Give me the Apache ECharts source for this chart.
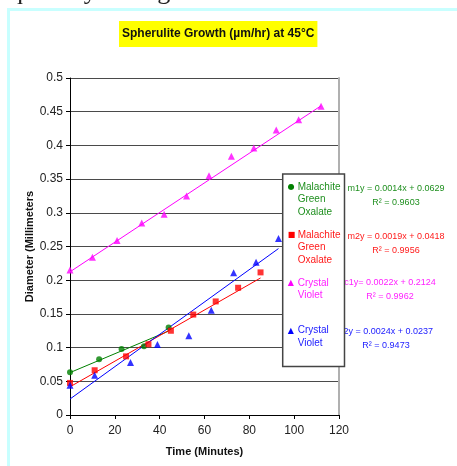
<!DOCTYPE html>
<html>
<head>
<meta charset="utf-8">
<script src="https://cdn.jsdelivr.net/npm/echarts@6/dist/echarts.min.js"></script>
<style>
  html, body { margin: 0; padding: 0; background: #ffffff; }
  #chart { width: 457px; height: 466px; }
</style>
</head>
<body>
<div id="chart"></div>
<script>
// Spherulite diameter over time, 45°C, four samples
const seriesNames = ['Malachite Green Oxalate 1', 'Malachite Green Oxalate 2', 'Crystal Violet 1', 'Crystal Violet 2'];
const legendLines = [
  ['Malachite', 'Green', 'Oxalate'],
  ['Malachite', 'Green', 'Oxalate'],
  ['Crystal', 'Violet', ' '],
  ['Crystal', 'Violet', ' ']
];

const mgo1Time = [0, 13, 23, 33, 44];
const mgo1Diam = [0.0635, 0.0828, 0.098, 0.102, 0.130];

const mgo2Time = [0, 11, 25, 35, 45, 55, 65, 75, 85];
const mgo2Diam = [0.0476, 0.0664, 0.087, 0.105, 0.125, 0.149, 0.1685, 0.1888, 0.2116];

const cv1Time = [0, 10, 21, 32, 42, 52, 62, 72, 82, 92, 102, 112];
const cv1Diam = [0.215, 0.234, 0.259, 0.285, 0.298, 0.325, 0.355, 0.384, 0.396, 0.423, 0.438, 0.458];

const cv2Time = [0, 11, 27, 39, 53, 63, 73, 83, 93];
const cv2Diam = [0.044, 0.059, 0.078, 0.1046, 0.1175, 0.1556, 0.211, 0.2265, 0.262];

// Linear trendlines (y = slope * x + intercept) and their fit quality
const trendSlope = [0.0014, 0.0019, 0.0022, 0.0024];
const trendIntercept = [0.0629, 0.0418, 0.2124, 0.0237];
const trendLabel = [
  'm1y = 0.0014x + 0.0629', 'm2y = 0.0019x + 0.0418',
  'c1y= 0.0022x + 0.2124', 'c2y = 0.0024x + 0.0237'
];
const rSquared = ['0.9603', '0.9956', '0.9962', '0.9473'];

const xTicks = [0, 20, 40, 60, 80, 100, 120];
const yMax = 0.5, yStep = 0.05;

const colors = ['#008000', '#ff0000', '#ff00ff', '#0000ff'];
const textColors = ['#1f8f1f', '#ff1a1a', '#ff22ff', '#1a1aff'];
const symbols = ['circle', 'rect', 'triangle', 'triangle'];
const symbolSizes = [6, 6, 7, 7];
const legendGlyph = ['●', '■', '▲', '▲'];
const FONT = '"Liberation Sans", Arial, sans-serif';

const times = [mgo1Time, mgo2Time, cv1Time, cv2Time];
const diams = [mgo1Diam, mgo2Diam, cv1Diam, cv2Diam];

const series = [];
times.forEach((t, i) => {
  const xEnd = Math.max(...t);
  series.push({
    name: seriesNames[i] + ' trend',
    type: 'line',
    data: [[0, trendIntercept[i]], [xEnd, trendSlope[i] * xEnd + trendIntercept[i]]],
    showSymbol: false,
    symbol: 'none',
    silent: true,
    lineStyle: { color: colors[i], width: 1 },
    z: 2
  });
});
times.forEach((t, i) => {
  series.push({
    name: seriesNames[i],
    type: 'scatter',
    data: t.map((x, k) => [x, diams[i][k]]),
    symbol: symbols[i],
    symbolSize: symbolSizes[i],
    itemStyle: { color: colors[i] },
    z: 3
  });
});

const legendData = seriesNames.map((name, i) => ({
  name: name,
  icon: 'circle',
  textStyle: {
    color: textColors[i],
    rich: {
      i: { width: 10, align: 'left', fontSize: 8, fontFamily: '"DejaVu Sans"', color: colors[i], lineHeight: 12.4, verticalAlign: 'middle' },
      t: { fontSize: 10, fontFamily: FONT, color: textColors[i], lineHeight: 12.4 }
    }
  }
}));

// Trendline equations, placed to the right of the plot
const eqPos = [
  { x: 396, y: 181.7 }, { x: 396, y: 229.7 }, { x: 390, y: 275.3 }, { x: 386, y: 324.7 }
];
const eqText = trendLabel.map((s, i) => ({
  type: 'text',
  x: eqPos[i].x, y: eqPos[i].y, z: 1,
  style: {
    text: s + '\nR² = ' + rSquared[i],
    fill: textColors[i], font: '9px ' + FONT,
    align: 'center', verticalAlign: 'top', lineHeight: 14
  }
}));

const chart = echarts.init(document.getElementById('chart'), null, { renderer: 'canvas' });
chart.setOption({
  backgroundColor: '#ffffff',
  animation: false,
  title: {
    text: 'Spherulite Growth (µm/hr) at 45°C',
    left: 119, top: 21,
    backgroundColor: '#ffff00',
    padding: [6, 3, 6, 3],
    textStyle: { fontFamily: FONT, fontSize: 12, fontWeight: 'bold', color: '#111', lineHeight: 14 }
  },
  grid: { left: 70, top: 78, right: 118, bottom: 51 },
  legend: {
    orient: 'vertical',
    left: 282.7, top: 174,
    padding: [8.2, 4, 6, 0],
    itemGap: 13,
    itemWidth: 0, itemHeight: 0,
    backgroundColor: '#ffffff',
    borderColor: '#444444', borderWidth: 1.5,
    selectedMode: false,
    data: legendData,
    formatter: name => {
      const k = seriesNames.indexOf(name);
      return legendLines[k].map((ln, j) =>
        '{i|' + (j === 0 ? legendGlyph[k] : ' ') + '}{t|' + ln + '}').join('\n');
    },
    z: 10
  },
  xAxis: {
    type: 'value',
    min: xTicks[0], max: xTicks[xTicks.length - 1], interval: xTicks[1] - xTicks[0],
    name: 'Time (Minutes)', nameLocation: 'middle', nameGap: 31, nameMoveOverlap: false,
    nameTextStyle: { fontFamily: FONT, fontSize: 11, fontWeight: 'bold', color: '#111' },
    axisLine: { lineStyle: { color: '#000', width: 1 } },
    axisTick: { show: true, inside: false, length: 4, lineStyle: { color: '#000' } },
    axisLabel: { fontFamily: FONT, fontSize: 12, color: '#222', margin: 10 },
    splitLine: { show: false }
  },
  yAxis: [{
    type: 'value',
    min: 0, max: yMax, interval: yStep,
    name: 'Diameter (Millimeters', nameLocation: 'middle', nameGap: 35, nameRotate: 90,
    nameMoveOverlap: false,
    nameTextStyle: { fontFamily: FONT, fontSize: 11, fontWeight: 'bold', color: '#111' },
    axisLine: { show: true, lineStyle: { color: '#000', width: 1 } },
    axisTick: { show: true, inside: false, length: 4, lineStyle: { color: '#000' } },
    axisLabel: {
      fontFamily: FONT, fontSize: 12, color: '#222', margin: 7,
      formatter: v => String(Number(v.toFixed(2)))
    },
    splitLine: { show: true, lineStyle: { color: '#4a4a4a', width: 1 } }
  }, {
    type: 'value', position: 'right',
    min: 0, max: yMax,
    axisLine: { show: true, lineStyle: { color: '#b0b0b0', width: 2 } },
    axisTick: { show: false }, axisLabel: { show: false }, splitLine: { show: false }
  }],
  series: series,
  graphic: [
    {
      type: 'rect', z: 0, silent: true,
      shape: { x: 8.5, y: 9.5, width: 700, height: 700 },
      style: { fill: null, stroke: '#c8ffff', lineWidth: 3 }
    },
    {
      type: 'text', x: 10, y: 5, z: 0, silent: true,
      style: { text: 'quantify their growth rates.', font: '26px "Liberation Serif", serif', fill: '#222', verticalAlign: 'bottom', align: 'left' }
    }
  ].concat(eqText)
});
</script>
</body>
</html>
